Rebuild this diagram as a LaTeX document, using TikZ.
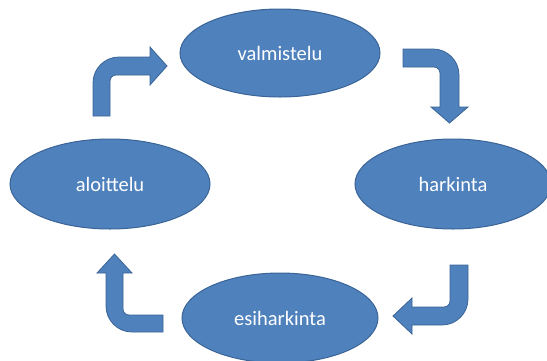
\documentclass[tikz,border=0pt]{standalone}
\usepackage{fontspec}
\setmainfont{Carlito}
\usetikzlibrary{shapes.geometric}
\definecolor{ofblue}{HTML}{4F81BD}
\definecolor{ofedge}{HTML}{3A6496}
\tikzset{
  stage/.style={ellipse, fill=ofblue, draw=ofedge, line width=1pt, text=white,
    font=\fontsize{20.5}{24}\selectfont, inner sep=0pt},
  bent/.style={fill=ofblue, draw=ofedge, line width=0.8pt, line join=miter}
}
\begin{document}
\begin{tikzpicture}[x=1pt,y=-1pt]
\useasboundingbox (0,0) rectangle (547,360);
\node[stage, minimum width=200pt, minimum height=88pt] (valm) at (280,53) {valmistelu};
\node[stage, minimum width=200pt, minimum height=90pt] (aloi) at (110,184) {aloittelu};
\node[stage, minimum width=196pt, minimum height=90pt] (hark) at (453,184) {harkinta};
\node[stage, minimum width=196pt, minimum height=90pt] (esih) at (280,318) {esiharkinta};
% arrow aloittelu -> valmistelu
\coordinate (a1) at (93,116);
\draw[bent] (a1) -- (93,83) .. controls (93,68.6) and (104.6,57) .. (119,57) -- (150,57) -- (150,47) -- (167,66) -- (150,85) -- (150,75) -- (116,75) .. controls (112.7,75) and (110,77.7) .. (110,81) -- (110,116) -- cycle;
% arrow valmistelu -> harkinta
\coordinate (a2) at (403,49);
\draw[bent] (a2) -- (433,49) .. controls (447.4,49) and (459,60.6) .. (459,75) -- (459,107) -- (468,107) -- (449.5,123) -- (431,107) -- (440,107) -- (440,73) .. controls (440,69.7) and (437.3,67) .. (434,67) -- (403,67) -- cycle;
% arrow harkinta -> esiharkinta
\coordinate (a3) at (468,265);
\draw[bent] (a3) -- (468,299) .. controls (468,313.4) and (456.4,325) .. (442,325) -- (412,325) -- (412,334) -- (393,316) -- (412,298) -- (412,307) -- (444,307) .. controls (447.3,307) and (450,304.3) .. (450,301) -- (450,265) -- cycle;
% arrow esiharkinta -> aloittelu
\coordinate (a4) at (163,332);
\draw[bent] (a4) -- (132,332) .. controls (117.6,332) and (106,320.4) .. (106,306) -- (106,273) -- (97,273) -- (114.5,254) -- (132,273) -- (123,273) -- (123,309) .. controls (123,312.3) and (125.7,315) .. (129,315) -- (163,315) -- cycle;
\end{tikzpicture}
\end{document}
